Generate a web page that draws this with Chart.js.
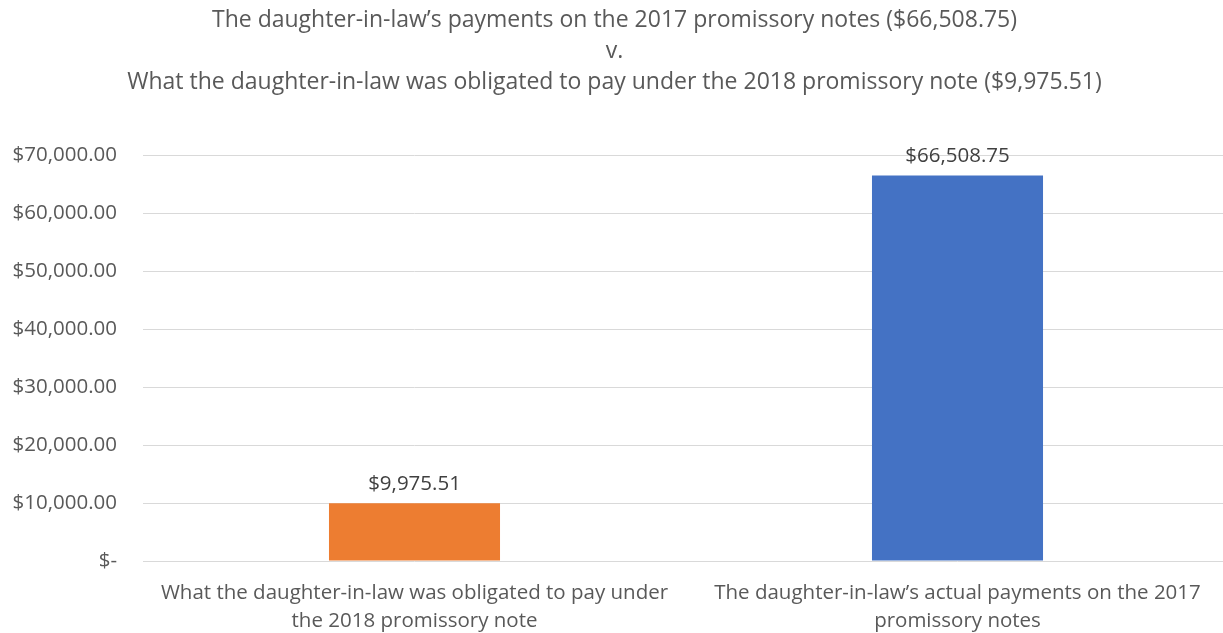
<!DOCTYPE html>
<html lang="en">
<head>
    <meta charset="UTF-8">
    <title>Promissory note payments</title>
    <script src="https://cdn.jsdelivr.net/npm/chart.js"></script>
    <style>
        html, body { margin: 0; padding: 0; background: #fff; overflow: hidden; }
        #wrap { width: 1229px; height: 633px; position: relative; }
    </style>
</head>
<body>
    <div id="wrap"><canvas id="paymentsChart"></canvas></div>

    <script>
        const titleLines = [
            "The daughter-in-law\u2019s payments on the 2017 promissory notes ($66,508.75)",
            "v.",
            "What the daughter-in-law was obligated to pay under the 2018 promissory note ($9,975.51)"
        ];
        const categories = [
            ["What the daughter-in-law was obligated to pay under", "the 2018 promissory note"],
            ["The daughter-in-law\u2019s actual payments on the 2017", "promissory notes"]
        ];
        const amounts = [9975.51, 66508.75];
        const barColors = ["#ED7D31", "#4472C4"];
        const yTicks = [0, 10000, 20000, 30000, 40000, 50000, 60000, 70000];

        const gray = "#595959";
        const fontFamily = "'Open Sans', sans-serif";

        function money(v) {
            if (v === 0) return "$-";
            return "$" + v.toLocaleString("en-US", { minimumFractionDigits: 2, maximumFractionDigits: 2 });
        }

        // simple value labels above each bar
        const valueLabels = {
            id: "valueLabels",
            afterDatasetsDraw(chart) {
                const ctx = chart.ctx;
                const meta = chart.getDatasetMeta(0);
                ctx.save();
                ctx.font = "20.5px " + fontFamily;
                ctx.fillStyle = "#404040";
                ctx.textAlign = "center";
                ctx.textBaseline = "middle";
                meta.data.forEach((bar, i) => {
                    ctx.fillText(money(amounts[i]), bar.x, bar.y - 19);
                });
                ctx.restore();
            }
        };

        const ctx = document.getElementById("paymentsChart").getContext("2d");
        new Chart(ctx, {
            type: "bar",
            data: {
                labels: categories,
                datasets: [{
                    data: amounts,
                    backgroundColor: barColors,
                    categoryPercentage: 1.0,
                    barPercentage: 0.315
                }]
            },
            options: {
                responsive: true,
                maintainAspectRatio: false,
                animation: false,
                layout: { padding: 0 },
                plugins: {
                    legend: { display: false },
                    tooltip: { enabled: false },
                    title: {
                        display: true,
                        text: titleLines,
                        color: gray,
                        font: { family: fontFamily, size: 23, weight: "normal", lineHeight: 1.35 },
                        padding: { top: 5, bottom: 57 }
                    }
                },
                scales: {
                    x: {
                        grid: { display: false },
                        border: { display: false },
                        ticks: {
                            color: gray,
                            font: { family: fontFamily, size: 20.5, lineHeight: 1.37 },
                            maxRotation: 0,
                            autoSkip: false,
                            padding: 10
                        },
                        afterFit(scale) { scale.height = 72; }
                    },
                    y: {
                        min: 0,
                        max: 70000,
                        afterBuildTicks(scale) { scale.ticks = yTicks.map(v => ({ value: v })); },
                        grid: { color: "#d9d9d9", lineWidth: 1, drawTicks: false },
                        border: { display: false },
                        ticks: {
                            color: gray,
                            font: { family: fontFamily, size: 20.5 },
                            padding: 26,
                            callback: v => money(v)
                        },
                        afterFit(scale) { scale.width = 143; }
                    }
                }
            },
            plugins: [valueLabels]
        });
    </script>
</body>
</html>
